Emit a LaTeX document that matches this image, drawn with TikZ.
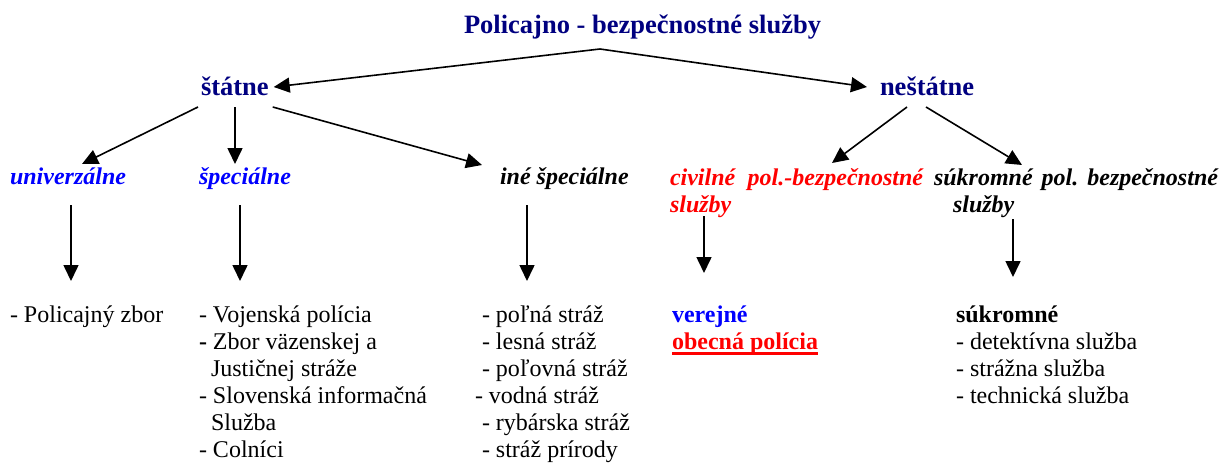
\documentclass[tikz,border=0pt]{standalone}
\usepackage{fontspec}
\setmainfont{Liberation Serif}
\usetikzlibrary{arrows.meta,calc}
\definecolor{navyc}{RGB}{0,0,128}
\definecolor{bluec}{RGB}{0,0,255}
\definecolor{redc}{RGB}{255,0,0}
\newcommand\mylines[1]{\vtop{\baselineskip=27pt\lineskiplimit=-100pt\lineskip=0pt #1}}
\begin{document}
\begin{tikzpicture}[x=1pt,y=-1pt,
  lbl/.style={inner sep=0pt, outer sep=0pt, anchor=base west},
  big/.style={lbl, font=\fontsize{26.5}{30}\selectfont\bfseries, text=navyc},
  mid/.style={lbl, font=\fontsize{24}{27}\selectfont\bfseries\itshape},
  body/.style={lbl, font=\fontsize{24}{27}\selectfont},
  bodyb/.style={body, font=\fontsize{24}{27}\selectfont\bfseries},
  arr/.style={line width=1.6pt, -{Triangle[length=16pt,width=15pt]}}
]
\useasboundingbox (0,0) rectangle (1231,463);

% level 0 / 1
\node[big] (title) at (464,33) {Policajno - bezpečnostné služby};
\node[big] (statne) at (201,95) {štátne};
\node[big] (nestatne) at (880,95) {neštátne};

% level 2
\node[mid, text=bluec] (univ) at (10,184) {univerzálne};
\node[mid, text=bluec] (spec) at (199,184) {špeciálne};
\node[mid] (ine) at (500,184) {iné špeciálne};
\node[mid, text=redc] (civil) at (670,185) {\mylines{\hbox to 253pt{civilné\hfill pol.-bezpečnostné}\hbox{služby}}};
\node[mid] (sukrh) at (934,185) {\mylines{\hbox to 284pt{súkromné\hfill pol.\hfill bezpečnostné}\hbox{\kern19pt služby}}};

% level 3
\node[body] (pz) at (10,322) {- Policajný zbor};
\node[body] (col2) at (199,322) {\mylines{\hbox{- Vojenská polícia}\hbox{\textbf{-} Zbor väzenskej a}\hbox{\kern12pt Justičnej stráže}\hbox{- Slovenská informačná}\hbox{\kern12pt Služba}\hbox{- Colníci}}};
\node[body] (col3) at (475,322) {\mylines{\hbox{\kern7pt - poľná stráž}\hbox{\kern7pt - lesná stráž}\hbox{\kern7pt - poľovná stráž}\hbox{- vodná stráž}\hbox{\kern7pt - rybárska stráž}\hbox{\kern7pt - stráž prírody}}};
\node[bodyb, text=bluec] (verejne) at (672,322) {verejné};
\node[bodyb, text=redc] (obecna) at (672,349) {obecná polícia};
\draw[redc, line width=2.5pt] ($(obecna.base west)+(0,4.5)$) -- ($(obecna.base east)+(0,4.5)$);
\node[body] (sukr) at (956,322) {\mylines{\hbox{\textbf{súkromné}}\hbox{- detektívna služba}\hbox{- strážna služba}\hbox{- technická služba}}};

% connectors
\coordinate (split) at (600,49);
\draw[arr] (split) -- ($(statne.base east)+(5,-8)$);
\draw[arr] (split) -- ($(nestatne.base west)+(-13,-8)$);

\draw[arr] ($(statne.base west)+(-3,12)$) -- ($(univ.base west)+(72,-20)$);
\draw[arr] ($(statne.base west)+(34,12)$) -- ($(spec.base west)+(36,-20)$);
\draw[arr] ($(statne.base east)+(4,12)$) -- ($(ine.base west)+(-18,-19)$);
\draw[arr] ($(nestatne.base west)+(27,12)$) -- ($(civil.base west)+(162,-22)$);
\draw[arr] ($(nestatne.base west)+(46,12)$) -- ($(sukrh.base west)+(88,-20)$);

\draw[arr] ($(univ.base west)+(61,21)$) -- ($(pz.base west)+(61,-41)$);
\draw[arr] ($(spec.base west)+(41,21)$) -- ($(col2.base west)+(41,-41)$);
\draw[arr] ($(ine.base west)+(27,21)$) -- ($(col3.base west)+(52,-41)$);
\draw[arr] ($(civil.base west)+(34,31)$) -- ($(verejne.base west)+(32,-49)$);
\draw[arr] ($(sukrh.base west)+(79,34)$) -- ($(sukr.base west)+(57,-45)$);
\end{tikzpicture}
\end{document}
